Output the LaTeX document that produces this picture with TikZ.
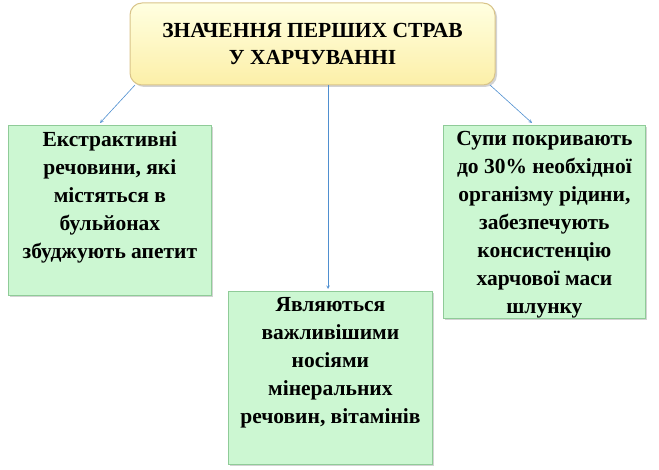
\documentclass[tikz,border=0pt]{standalone}
\usepackage{fontspec}
\setmainfont{Liberation Serif}
\usetikzlibrary{shadows}
\definecolor{gfill}{HTML}{CCF7D2}
\definecolor{gdraw}{HTML}{8FCB98}
\definecolor{yfill}{HTML}{FCEFA8}
\definecolor{ydraw}{HTML}{D9C48A}
\definecolor{arr}{HTML}{4F8FD0}
\tikzset{
 gbox/.style={draw=gdraw,line width=0.8pt,fill=gfill,drop shadow={opacity=0.35,shadow xshift=2pt,shadow yshift=-2pt},inner sep=2pt},
 gtext/.style={align=center,font=\bfseries\fontsize{21.5}{28}\selectfont,anchor=north,yshift=-3pt},
 ybox/.style={draw=ydraw,line width=1pt,top color=yellow!12!white,bottom color=yfill,rounded corners=12pt,drop shadow={opacity=0.35,shadow xshift=2pt,shadow yshift=-2pt},align=center,font=\bfseries\fontsize{21.5}{27}\selectfont},
 con/.style={draw=arr,line width=0.6pt,-stealth}
}
\begin{document}
\begin{tikzpicture}[x=1pt,y=1pt]
\useasboundingbox (0,0) rectangle (659,469);
\node[ybox,minimum width=365pt,minimum height=82pt] (top) at (312.5,425) {ЗНАЧЕННЯ ПЕРШИХ СТРАВ\\У ХАРЧУВАННІ};
\node[gbox,minimum width=203pt,minimum height=170pt,anchor=north west] (l) at (8,344) {};
\node[gtext] (lt) at (l.north) {Екстрактивні\\речовини, які\\містяться в\\бульйонах\\збуджують апетит};
\node[gbox,minimum width=204pt,minimum height=173pt,anchor=north west] (m) at (228,178) {};
\node[gtext] (mt) at (m.north) {Являються\\важливішими\\носіями\\мінеральних\\речовин, вітамінів};
\node[gbox,minimum width=202pt,minimum height=193pt,anchor=north west] (r) at (443,344) {};
\node[gtext] (rt) at (r.north) {Супи покривають\\до 30\% необхідної\\організму рідини,\\забезпечують\\консистенцію\\харчової маси\\шлунку};
\coordinate (a1) at (135,384);
\coordinate (a2) at (490,384);
\coordinate (b1) at (100,346);
\coordinate (b2) at (532,346);
\coordinate (c0) at (328,384);
\coordinate (c1) at (328,180);
\draw[con] (a1) -- (b1);
\draw[con] (c0) -- (c1);
\draw[con] (a2) -- (b2);
\end{tikzpicture}
\end{document}
